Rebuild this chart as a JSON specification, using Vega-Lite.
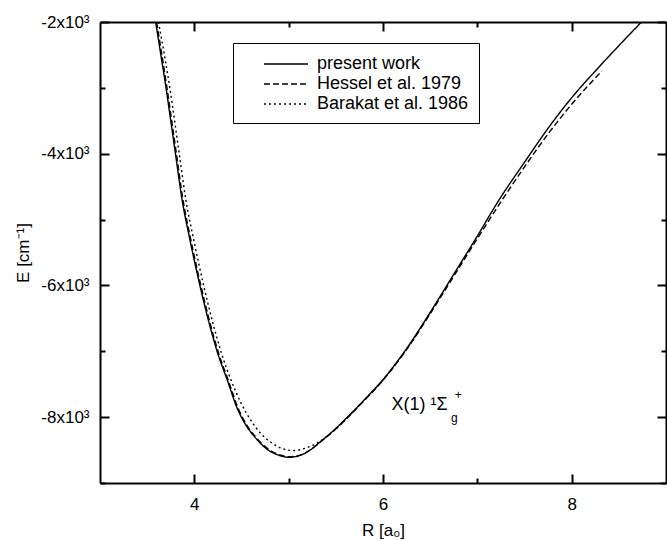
{
  "$schema": "https://vega.github.io/schema/vega-lite/v6.json",
  "width": 566,
  "height": 461,
  "autosize": {"type": "none"},
  "padding": {"left": 100, "top": 22, "right": 1, "bottom": 57},
  "background": "white",
  "config": {
    "font": "Liberation Sans",
    "view": {"stroke": null},
    "axis": {"grid": false, "labelColor": "black", "titleColor": "black", "tickColor": "black", "domainColor": "black", "titleFontWeight": "normal", "labelFontSize": 17, "titleFontSize": 17, "tickWidth": 2, "domainWidth": 2}
  },
  "datasets": {
    "curves": [
      {"s": "present work", "R": 3.59, "E": -2000},
      {"s": "present work", "R": 3.645, "E": -2500},
      {"s": "present work", "R": 3.70, "E": -3000},
      {"s": "present work", "R": 3.75, "E": -3500},
      {"s": "present work", "R": 3.80, "E": -4000},
      {"s": "present work", "R": 3.87, "E": -4700},
      {"s": "present work", "R": 3.95, "E": -5284},
      {"s": "present work", "R": 4.05, "E": -5944},
      {"s": "present work", "R": 4.15, "E": -6534},
      {"s": "present work", "R": 4.25, "E": -7040},
      {"s": "present work", "R": 4.35, "E": -7440},
      {"s": "present work", "R": 4.45, "E": -7850},
      {"s": "present work", "R": 4.55, "E": -8130},
      {"s": "present work", "R": 4.64, "E": -8300},
      {"s": "present work", "R": 4.78, "E": -8497},
      {"s": "present work", "R": 4.90, "E": -8580},
      {"s": "present work", "R": 5.00, "E": -8610},
      {"s": "present work", "R": 5.10, "E": -8590},
      {"s": "present work", "R": 5.18, "E": -8542},
      {"s": "present work", "R": 5.36, "E": -8345},
      {"s": "present work", "R": 5.50, "E": -8170},
      {"s": "present work", "R": 5.63, "E": -7990},
      {"s": "present work", "R": 5.80, "E": -7740},
      {"s": "present work", "R": 6.00, "E": -7430},
      {"s": "present work", "R": 6.25, "E": -6960},
      {"s": "present work", "R": 6.50, "E": -6410},
      {"s": "present work", "R": 6.75, "E": -5830},
      {"s": "present work", "R": 7.00, "E": -5250},
      {"s": "present work", "R": 7.23, "E": -4702},
      {"s": "present work", "R": 7.50, "E": -4130},
      {"s": "present work", "R": 7.76, "E": -3594},
      {"s": "present work", "R": 8.00, "E": -3150},
      {"s": "present work", "R": 8.29, "E": -2683},
      {"s": "present work", "R": 8.50, "E": -2360},
      {"s": "present work", "R": 8.74, "E": -2000},
      {"s": "Hessel et al. 1979", "R": 3.60, "E": -2000},
      {"s": "Hessel et al. 1979", "R": 3.71, "E": -3000},
      {"s": "Hessel et al. 1979", "R": 3.81, "E": -4000},
      {"s": "Hessel et al. 1979", "R": 3.88, "E": -4700},
      {"s": "Hessel et al. 1979", "R": 3.96, "E": -5284},
      {"s": "Hessel et al. 1979", "R": 4.06, "E": -5944},
      {"s": "Hessel et al. 1979", "R": 4.16, "E": -6534},
      {"s": "Hessel et al. 1979", "R": 4.26, "E": -7040},
      {"s": "Hessel et al. 1979", "R": 4.36, "E": -7440},
      {"s": "Hessel et al. 1979", "R": 4.46, "E": -7850},
      {"s": "Hessel et al. 1979", "R": 4.56, "E": -8130},
      {"s": "Hessel et al. 1979", "R": 4.65, "E": -8300},
      {"s": "Hessel et al. 1979", "R": 4.79, "E": -8490},
      {"s": "Hessel et al. 1979", "R": 4.91, "E": -8575},
      {"s": "Hessel et al. 1979", "R": 5.00, "E": -8600},
      {"s": "Hessel et al. 1979", "R": 5.10, "E": -8585},
      {"s": "Hessel et al. 1979", "R": 5.18, "E": -8540},
      {"s": "Hessel et al. 1979", "R": 5.36, "E": -8350},
      {"s": "Hessel et al. 1979", "R": 5.50, "E": -8180},
      {"s": "Hessel et al. 1979", "R": 5.63, "E": -8000},
      {"s": "Hessel et al. 1979", "R": 5.80, "E": -7750},
      {"s": "Hessel et al. 1979", "R": 6.00, "E": -7440},
      {"s": "Hessel et al. 1979", "R": 6.25, "E": -6975},
      {"s": "Hessel et al. 1979", "R": 6.50, "E": -6430},
      {"s": "Hessel et al. 1979", "R": 6.75, "E": -5860},
      {"s": "Hessel et al. 1979", "R": 7.00, "E": -5290},
      {"s": "Hessel et al. 1979", "R": 7.25, "E": -4730},
      {"s": "Hessel et al. 1979", "R": 7.50, "E": -4200},
      {"s": "Hessel et al. 1979", "R": 7.76, "E": -3680},
      {"s": "Hessel et al. 1979", "R": 8.00, "E": -3250},
      {"s": "Hessel et al. 1979", "R": 8.32, "E": -2744},
      {"s": "Barakat et al. 1986", "R": 3.62, "E": -2000},
      {"s": "Barakat et al. 1986", "R": 3.74, "E": -3000},
      {"s": "Barakat et al. 1986", "R": 3.84, "E": -4000},
      {"s": "Barakat et al. 1986", "R": 3.91, "E": -4700},
      {"s": "Barakat et al. 1986", "R": 3.99, "E": -5284},
      {"s": "Barakat et al. 1986", "R": 4.09, "E": -5944},
      {"s": "Barakat et al. 1986", "R": 4.19, "E": -6534},
      {"s": "Barakat et al. 1986", "R": 4.29, "E": -7040},
      {"s": "Barakat et al. 1986", "R": 4.39, "E": -7440},
      {"s": "Barakat et al. 1986", "R": 4.50, "E": -7800},
      {"s": "Barakat et al. 1986", "R": 4.60, "E": -8050},
      {"s": "Barakat et al. 1986", "R": 4.70, "E": -8240},
      {"s": "Barakat et al. 1986", "R": 4.82, "E": -8390},
      {"s": "Barakat et al. 1986", "R": 4.92, "E": -8470},
      {"s": "Barakat et al. 1986", "R": 5.05, "E": -8507},
      {"s": "Barakat et al. 1986", "R": 5.20, "E": -8460},
      {"s": "Barakat et al. 1986", "R": 5.35, "E": -8350},
      {"s": "Barakat et al. 1986", "R": 5.50, "E": -8180},
      {"s": "Barakat et al. 1986", "R": 5.63, "E": -7995},
      {"s": "Barakat et al. 1986", "R": 5.80, "E": -7745},
      {"s": "Barakat et al. 1986", "R": 6.00, "E": -7435},
      {"s": "Barakat et al. 1986", "R": 6.25, "E": -6965},
      {"s": "Barakat et al. 1986", "R": 6.50, "E": -6420}
    ],
    "ann": [{"R": 6.09, "E": -7815, "t": "X(1) ¹Σ"}],
    "sub": [{"R": 6.72, "E": -8010, "t": "g"}, {"R": 6.76, "E": -7670, "t": "+"}]
  },
  "layer": [
    {
      "data": {"name": "curves"},
      "mark": {"type": "line", "color": "black", "strokeWidth": 1.4, "clip": true, "interpolate": "monotone"},
      "encoding": {
        "x": {"field": "R", "type": "quantitative", "scale": {"domain": [3, 9], "nice": false, "zero": false},
              "axis": {"orient": "bottom", "values": [4, 6, 8], "tickSize": -9, "labelPadding": 22, "title": "R [a₀]", "titlePadding": 10}},
        "y": {"field": "E", "type": "quantitative", "scale": {"domain": [-9000, -2000], "nice": false, "zero": false},
              "axis": {"orient": "left", "values": [-8000, -6000, -4000, -2000], "tickSize": -9, "labelPadding": 20, "labelExpr": "(datum.value/1000) + 'x10³'", "title": "E [cm⁻¹]", "titlePadding": 8}},
        "strokeDash": {"field": "s", "type": "nominal",
              "scale": {"domain": ["present work", "Hessel et al. 1979", "Barakat et al. 1986"], "range": [[1, 0], [6, 3], [2, 3]]},
              "legend": {"title": null, "orient": "none", "legendX": 133, "legendY": 21, "strokeColor": "black", "fillColor": "white", "padding": 10, "symbolType": "M-2.2,0H2.2", "symbolOffset": 32, "symbolSize": 400, "symbolStrokeWidth": 1.5, "symbolStrokeColor": "black", "symbolFillColor": "transparent", "labelFontSize": 18, "labelColor": "black", "labelOffset": 20, "rowPadding": 0, "cornerRadius": 0}},
        "order": {"field": "R", "type": "quantitative"}
      }
    },
    {
      "data": {"name": "curves"},
      "mark": {"type": "line", "opacity": 0},
      "encoding": {
        "x": {"field": "R", "type": "quantitative", "axis": {"orient": "bottom", "values": [5, 7], "tickSize": -5, "labels": false, "domain": false, "title": null}},
        "y": {"field": "E", "type": "quantitative", "axis": {"orient": "left", "values": [-9000, -7000, -5000, -3000], "tickSize": -5, "labels": false, "domain": false, "title": null}},
        "detail": {"field": "s"}
      }
    },
    {
      "data": {"name": "curves"},
      "mark": {"type": "line", "opacity": 0},
      "encoding": {
        "x": {"field": "R", "type": "quantitative", "axis": {"orient": "top", "values": [4, 6, 8], "tickSize": -9, "labels": false, "title": null}},
        "y": {"field": "E", "type": "quantitative", "axis": {"orient": "right", "values": [-8000, -6000, -4000, -2000], "tickSize": -9, "labels": false, "title": null}},
        "detail": {"field": "s"}
      }
    },
    {
      "data": {"name": "curves"},
      "mark": {"type": "line", "opacity": 0},
      "encoding": {
        "x": {"field": "R", "type": "quantitative", "axis": {"orient": "top", "values": [5, 7], "tickSize": -5, "labels": false, "domain": false, "title": null}},
        "y": {"field": "E", "type": "quantitative", "axis": {"orient": "right", "values": [-9000, -7000, -5000, -3000], "tickSize": -5, "labels": false, "domain": false, "title": null}},
        "detail": {"field": "s"}
      }
    },
    {
      "data": {"name": "ann"},
      "mark": {"type": "text", "align": "left", "baseline": "middle", "fontSize": 18, "color": "black"},
      "encoding": {
        "x": {"field": "R", "type": "quantitative", "axis": null},
        "y": {"field": "E", "type": "quantitative", "axis": null},
        "text": {"field": "t"}
      }
    },
    {
      "data": {"name": "sub"},
      "mark": {"type": "text", "align": "left", "baseline": "middle", "fontSize": 12, "color": "black"},
      "encoding": {
        "x": {"field": "R", "type": "quantitative", "axis": null},
        "y": {"field": "E", "type": "quantitative", "axis": null},
        "text": {"field": "t"}
      }
    }
  ],
  "resolve": {"axis": {"x": "independent", "y": "independent"}}
}
